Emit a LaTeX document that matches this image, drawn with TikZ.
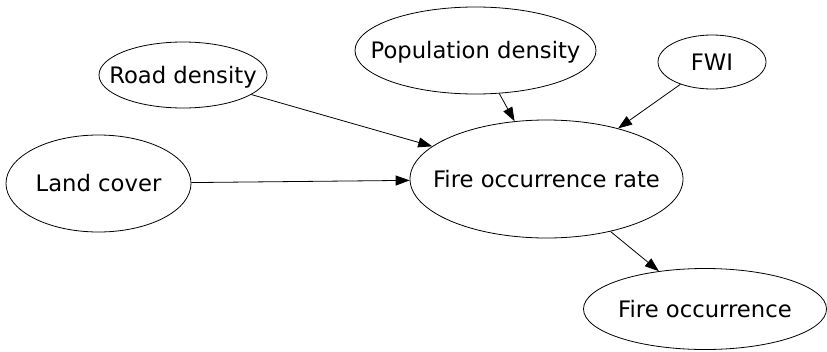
\documentclass[tikz,border=0pt]{standalone}
\usepackage{fontspec}
\setmainfont{DejaVu Sans}
\usetikzlibrary{shapes.geometric, arrows.meta}

\begin{document}
\begin{tikzpicture}[x=1pt, y=-1pt,
    >={Triangle[length=14pt, width=10pt]},
    bnode/.style={ellipse, draw, line width=0.8pt, inner sep=0pt,
      font=\fontsize{22.7}{26}\selectfont, text height=16.5pt, text depth=0pt},
    link/.style={->, line width=0.8pt}]

      \useasboundingbox (0,0) rectangle (827,351);

      % knoten
      \node[bnode, minimum width=168pt, minimum height=66pt] (road) at (183,75) {\makebox[0pt]{Road density}};
      \node[bnode, minimum width=241pt, minimum height=87pt] (pop) at (475.5,50.5) {\makebox[0pt]{Population density}};
      \node[bnode, minimum width=108pt, minimum height=54pt] (fwi) at (712,62) {\makebox[0pt]{FWI}};
      \node[bnode, minimum width=185pt, minimum height=97pt] (land) at (98.5,183.5) {\makebox[0pt]{Land cover}};
      \node[bnode, minimum width=273pt, minimum height=118pt] (rate) at (546.5,179) {\makebox[0pt]{Fire occurrence rate}};
      \node[bnode, minimum width=243pt, minimum height=81pt] (occ) at (705,309) {\makebox[0pt]{Fire occurrence}};

      % kanten
      \draw[link] (road) -- (rate);
      \draw[link] (pop) -- (rate);
      \draw[link] (fwi) -- (rate);
      \draw[link] (land) -- (rate);
      \draw[link] (rate) -- (occ);

\end{tikzpicture}
\end{document}
